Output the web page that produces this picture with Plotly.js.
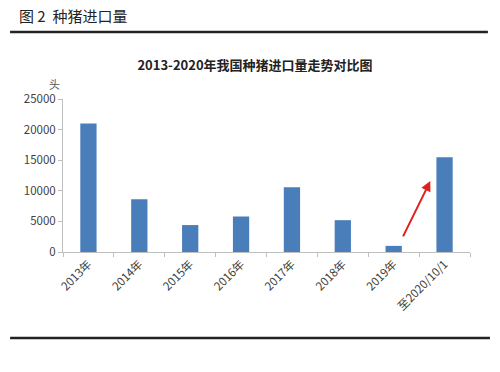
<!DOCTYPE html>
<html><head><meta charset="utf-8">
<script src="https://cdn.plot.ly/plotly-3.0.1.min.js"></script>
<style>html,body{margin:0;padding:0;background:#fff;}#chart{width:500px;height:372px;}</style>
</head><body><div id="chart"></div>
<script>
const categories = ['2013年','2014年','2015年','2016年','2017年','2018年','2019年','至2020/10/1'];
const imports = [21000, 8600, 4400, 5800, 10600, 5200, 1000, 15500];
const yTicks = [0, 5000, 10000, 15000, 20000, 25000];
const yTickText = ['0', '5000', '10000', '15000', '20000', '25000'];
const arrowTail = [6.17, 2300];
const arrowHead = [6.72, 11600];

const font = 'Noto Sans CJK SC, Liberation Sans, sans-serif';
const trace = {
  type: 'bar', x: categories, y: imports,
  marker: {color: '#4a7ebb'}, hoverinfo: 'none'
};
const layout = {
  width: 500, height: 372,
  margin: {l: 63, r: 30, t: 99, b: 120},
  paper_bgcolor: '#fff', plot_bgcolor: '#fff',
  showlegend: false, bargap: 0.68,
  font: {family: font, color: '#404040'},
  title: {text: '2013-2020年我国种猪进口量走势对比图', x: 0.51, xanchor: 'center',
          y: 1 - 65/372, yanchor: 'middle', yref: 'container',
          font: {size: 13, color: '#222', family: font, weight: 'bold'}},
  xaxis: {type: 'category', tickangle: -45, ticks: 'outside', tickson: 'boundaries',
          ticklen: 4, tickcolor: '#bfbfbf', showline: true, linecolor: '#bfbfbf',
          tickfont: {size: 11.5, color: '#404040'}, showgrid: false, fixedrange: true},
  yaxis: {range: [0, 25000], tickvals: yTicks, ticktext: yTickText, ticks: 'outside', ticklen: 4,
          tickcolor: '#bfbfbf', showline: true, linecolor: '#bfbfbf', showgrid: false,
          zeroline: false, tickfont: {size: 11.5, color: '#404040'}, fixedrange: true},
  shapes: [
    {type: 'line', xref: 'paper', yref: 'paper', x0: -0.13, x1: 1.044, y0: 1.438, y1: 1.438,
     line: {color: '#222', width: 2.5}},
    {type: 'line', xref: 'paper', yref: 'paper', x0: -0.13, x1: 1.049, y0: -0.562, y1: -0.562,
     line: {color: '#222', width: 2.5}}
  ],
  annotations: [
    {text: '图 2  种猪进口量', xref: 'paper', yref: 'paper', x: -0.112, y: 1.549,
     xanchor: 'left', yanchor: 'middle', showarrow: false,
     font: {size: 15, color: '#222', family: font}},
    {text: '头', xref: 'paper', yref: 'paper', x: -0.02, y: 1.098,
     xanchor: 'center', yanchor: 'middle', showarrow: false,
     font: {size: 11, color: '#555', family: font}},
    {text: '', x: arrowHead[0], y: arrowHead[1], ax: arrowTail[0], ay: arrowTail[1],
     xref: 'x', yref: 'y', axref: 'x', ayref: 'y', showarrow: true,
     arrowhead: 2, arrowsize: 1, arrowwidth: 2, arrowcolor: '#e0201b'}
  ]
};
Plotly.newPlot('chart', [trace], layout, {displayModeBar: false, staticPlot: true});
</script></body></html>
